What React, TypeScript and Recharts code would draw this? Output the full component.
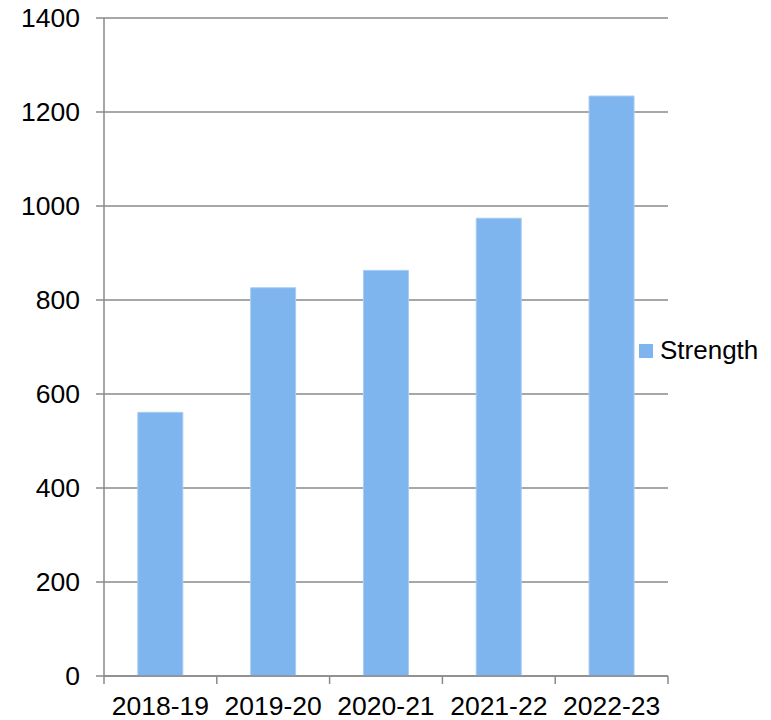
import React from "react";
import {
  BarChart,
  Bar,
  XAxis,
  YAxis,
  CartesianGrid,
  Legend,
} from "recharts";

const years = ["2018-19", "2019-20", "2020-21", "2021-22", "2022-23"];
const strength = [561, 826, 863, 974, 1234];
const yTicks = [0, 200, 400, 600, 800, 1000, 1200, 1400];

const data = years.map((year, i) => ({ year, strength: strength[i] }));

const W = 771;
const H = 720;
const LEFT = 104;
const RIGHT = 103;
const FONT = "'Liberation Sans', Arial, sans-serif";
const GRID = "#8a8a8a";
const BAND = (W - LEFT - RIGHT) / years.length;

function YearTick(props: any) {
  const { x, y, payload, index } = props;
  const left = x - BAND / 2;
  return (
    <g>
      <line x1={left} y1={y - 8} x2={left} y2={y} stroke={GRID} strokeWidth={1.5} />
      {index === years.length - 1 && (
        <line x1={left + BAND} y1={y - 8} x2={left + BAND} y2={y} stroke={GRID} strokeWidth={1.5} />
      )}
      <text x={x} y={y + 31} textAnchor="middle" fontFamily={FONT} fontSize={26.5} fill="#000">
        {payload.value}
      </text>
    </g>
  );
}

function StrengthLegend() {
  return (
    <div style={{ display: "flex", alignItems: "center", fontFamily: FONT, fontSize: 26, color: "#000" }}>
      <span style={{ width: 14, height: 14, background: "#7eb5ee", marginRight: 7 }} />
      <span>Strength</span>
    </div>
  );
}

export default function App() {
  return (
    <div style={{ position: "absolute", left: 0, top: 0, width: W, height: H, background: "#fff" }}>
      <BarChart
        width={W}
        height={H}
        data={data}
        margin={{ top: 18, right: RIGHT, left: 0, bottom: 0 }}
        barCategoryGap="30%"
      >
        <CartesianGrid vertical={false} stroke={GRID} strokeWidth={1.5} />
        <XAxis
          dataKey="year"
          height={44}
          tickSize={8}
          tickMargin={0}
          tickLine={false}
          axisLine={{ stroke: GRID, strokeWidth: 1.5 }}
          tick={<YearTick />}
          interval={0}
        />
        <YAxis
          width={LEFT}
          domain={[0, 1400]}
          ticks={yTicks}
          tickSize={8}
          tickMargin={16}
          axisLine={{ stroke: GRID, strokeWidth: 1.5 }}
          tickLine={{ stroke: GRID, strokeWidth: 1.5 }}
          tick={{ fontFamily: FONT, fontSize: 26.5, fill: "#000" }}
        />
        <Legend
          layout="horizontal"
          verticalAlign="middle"
          align="center"
          content={<StrengthLegend />}
          wrapperStyle={{ left: 639, top: 335, width: 132 }}
        />
        <Bar
          dataKey="strength"
          name="Strength"
          fill="#7eb5ee"
          stroke="#a8ccf3"
          strokeWidth={1}
          isAnimationActive={false}
        />
      </BarChart>
    </div>
  );
}
